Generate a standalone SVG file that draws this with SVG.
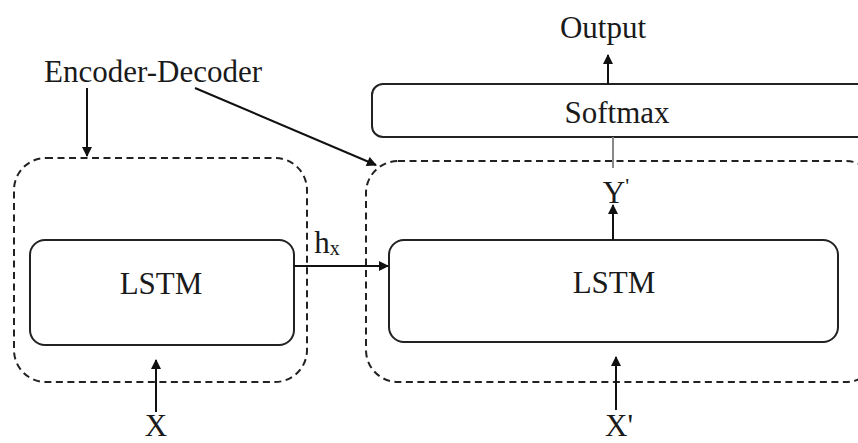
<svg xmlns="http://www.w3.org/2000/svg" width="858" height="443" viewBox="0 0 858 443">
<defs>
<marker id="ah" viewBox="0 0 10 10" refX="9" refY="5" markerWidth="11" markerHeight="10" markerUnits="userSpaceOnUse" orient="auto">
<path d="M0,0 L10,5 L0,10 z" fill="#111"/>
</marker>
</defs>
<style>
.box{fill:#fff;stroke:#222;stroke-width:2}
.dash{fill:none;stroke:#222;stroke-width:2;stroke-dasharray:7 4.5}
.t{font-family:"Liberation Serif","Times New Roman",serif;font-size:31px;fill:#1a1a1a;text-anchor:middle}
.c{stroke:#111;stroke-width:2;fill:none}
</style>
<rect width="858" height="443" fill="#fff"/>
<g id="encoder-group"><rect class="dash" x="14" y="158" width="293" height="224" rx="32"/></g>
<g id="decoder-group"><rect class="dash" x="366" y="161" width="512" height="221" rx="32"/></g>
<g id="softmax"><rect class="box" x="372" y="84" width="500" height="53" rx="11"/><text class="t" x="617" y="123">Softmax</text></g>
<g id="lstm-enc"><rect class="box" x="30" y="240" width="264" height="105" rx="15"/><text class="t" x="161" y="294">LSTM</text></g>
<g id="lstm-dec"><rect class="box" x="389" y="240" width="449" height="102" rx="15"/><text class="t" x="614" y="293">LSTM</text></g>
<g id="labels">
<text class="t" x="153" y="82">Encoder-Decoder</text>
<text class="t" x="603" y="38">Output</text>
<text class="t" x="616" y="203">Y<tspan font-size="22" dy="-10">'</tspan></text>
<text class="t" x="327" y="253" text-anchor="start">h<tspan font-size="20" dy="2">x</tspan></text>
<text class="t" x="156" y="436">X</text>
<text class="t" x="619" y="436">X'</text>
</g>
<g id="connectors">
<line class="c" x1="87" y1="88" x2="87" y2="156" marker-end="url(#ah)"/>
<line class="c" x1="195" y1="88" x2="376" y2="165" marker-end="url(#ah)"/>
<line class="c" x1="608" y1="84" x2="608" y2="55" marker-end="url(#ah)"/>
<line x1="613" y1="137" x2="613" y2="168" stroke="#888" stroke-width="2"/>
<line class="c" x1="613" y1="240" x2="613" y2="205" marker-end="url(#ah)"/>
<line class="c" x1="294" y1="266" x2="388" y2="266" marker-end="url(#ah)"/>
<line class="c" x1="156" y1="412" x2="156" y2="360" marker-end="url(#ah)"/>
<line class="c" x1="616" y1="410" x2="616" y2="357" marker-end="url(#ah)"/>
</g>
</svg>
